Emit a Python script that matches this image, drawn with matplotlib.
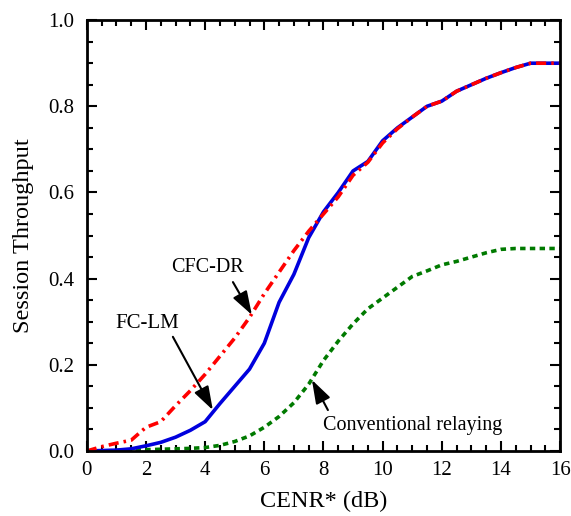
import numpy as np
import matplotlib
matplotlib.use('Agg')
import matplotlib.pyplot as plt
import matplotlib.ticker as ticker

plt.rcParams['font.family'] = ['Liberation Serif', 'DejaVu Serif']

# CENR* (dB)
x = [0, 0.5, 1, 1.5, 2, 2.5, 3, 3.5, 4, 4.5, 5, 5.5, 6, 6.5, 7, 7.5, 8,
     8.5, 9, 9.5, 10, 10.5, 11, 11.5, 12, 12.5, 13, 13.5, 14, 14.5, 15, 15.5, 16]

fc_lm = [0, 0.001, 0.002, 0.005, 0.012, 0.02, 0.032, 0.048, 0.068, 0.11, 0.15,
         0.19, 0.25, 0.345, 0.41, 0.495, 0.555, 0.60, 0.65, 0.672, 0.72, 0.75,
         0.775, 0.80, 0.812, 0.835, 0.85, 0.865, 0.878, 0.89, 0.90, 0.90, 0.90]

cfc_dr = [0, 0.01, 0.018, 0.025, 0.055, 0.068, 0.105, 0.14, 0.178, 0.22, 0.262,
          0.31, 0.365, 0.415, 0.465, 0.51, 0.55, 0.59, 0.64, 0.67, 0.715, 0.748,
          0.775, 0.80, 0.812, 0.835, 0.85, 0.865, 0.878, 0.89, 0.90, 0.90, 0.90]

conv = [0, 0.0, 0.001, 0.002, 0.003, 0.004, 0.005, 0.006, 0.008, 0.013, 0.022,
        0.035, 0.055, 0.08, 0.112, 0.155, 0.21, 0.255, 0.295, 0.33, 0.355, 0.38,
        0.405, 0.418, 0.432, 0.44, 0.45, 0.46, 0.468, 0.47, 0.47, 0.47, 0.47]

fig = plt.figure(figsize=(5.71, 5.16), dpi=100)
ax = fig.add_axes([0.152, 0.126, 0.829, 0.835])

ax.plot(x, conv, color='#007A00', lw=2.6, dashes=(1.5, 1.2))  # conventional
ax.plot(x, fc_lm, color='#0000DD', lw=2.6)  # FC-LM
ax.plot(x, cfc_dr, color='#FF0000', lw=2.6, dashes=(2.8, 1.4, 0.7, 1.4))  # CFC-DR

ax.set_xlim(0, 16)
ax.set_ylim(0, 1.0)
ax.xaxis.set_major_locator(ticker.MultipleLocator(2))
ax.xaxis.set_minor_locator(ticker.MultipleLocator(0.5))
ax.yaxis.set_major_locator(ticker.MultipleLocator(0.2))
ax.yaxis.set_minor_locator(ticker.MultipleLocator(0.05))
ax.yaxis.set_major_formatter(ticker.FormatStrFormatter('%.1f'))
ax.tick_params(which='both', direction='in', top=True, right=True, width=1.5)
ax.tick_params(which='major', length=7, labelsize=15)
ax.tick_params(axis='y', pad=9)
ax.tick_params(axis='x', pad=7)
ax.tick_params(which='minor', length=4.5)
for s in ax.spines.values():
    s.set_linewidth(2)

ax.set_xlabel('CENR* (dB)', fontsize=17.5, labelpad=8)
ax.set_ylabel('Session Throughput', fontsize=17.5, labelpad=10)

# стрелки к кривым
arr = dict(arrowstyle='-|>,head_length=0.9,head_width=0.3', color='black',
           lw=1.5, mutation_scale=16, shrinkA=0, shrinkB=0)
ax.annotate('', xy=(5.58, 0.316), xytext=(4.94, 0.392), arrowprops=arr)
ax.text(4.09, 0.427, 'CFC-DR', fontsize=14.5, ha='center', va='center')
ax.annotate('', xy=(4.26, 0.095), xytext=(2.91, 0.265), arrowprops=arr)
ax.text(2.03, 0.297, 'FC-LM', fontsize=15, ha='center', va='center')
ax.annotate('', xy=(7.61, 0.165), xytext=(8.15, 0.095), arrowprops=arr)
ax.text(11.0, 0.058, 'Conventional relaying', fontsize=14.5, ha='center', va='center')

fig.savefig('out.png', dpi=100)
